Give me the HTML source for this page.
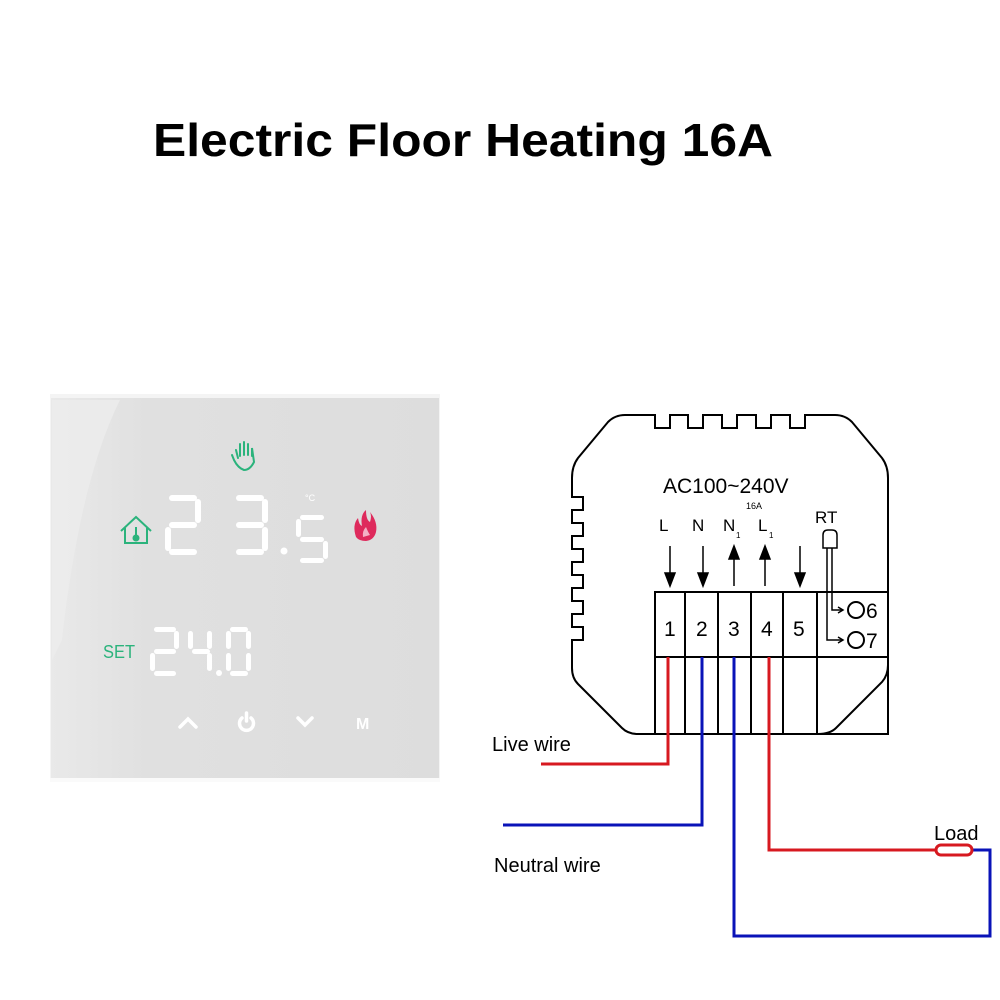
<!DOCTYPE html>
<html><head><meta charset="utf-8"><style>
html,body{margin:0;padding:0;background:#fff;}
svg{display:block;font-family:"Liberation Sans",Arial,sans-serif;}
</style></head><body>
<svg width="1000" height="1000" viewBox="0 0 1000 1000" xmlns="http://www.w3.org/2000/svg">
<rect width="1000" height="1000" fill="#fff"/>
<text x="153" y="156" font-size="46" font-weight="bold" textLength="620" lengthAdjust="spacingAndGlyphs">Electric Floor Heating 16A</text>

<defs>
<linearGradient id="pg" x1="0" y1="0" x2="1" y2="0">
<stop offset="0" stop-color="#e9e9e9"/><stop offset="0.25" stop-color="#e0e0e0"/><stop offset="1" stop-color="#dddddd"/>
</linearGradient>
</defs>
<rect x="50" y="394" width="390" height="388" fill="#f4f4f4"/>
<rect x="51" y="398" width="388" height="380" fill="url(#pg)"/>
<path d="M52 400 L120 400 Q80 480 62 640 L52 660 Z" fill="#ececec" opacity="0.8"/>
<rect x="50" y="778" width="390" height="4" fill="#fafafa"/>

<g stroke="#2bb37c" stroke-width="2" fill="none" stroke-linecap="round">
<path d="M238 458 L236 450 M240 456 L240 444 M244 455 L244 442 M248 455 L248 444 M252 456 L252 448 L254 462 Q250 470 244 470 Q238 468 234 460 L232 455"/>
</g>
<g stroke="#2bb37c" stroke-width="2" fill="none">
<path d="M121 531 L136 517 L151 531 M125 528 L125 543 L147 543 L147 528"/>
<circle cx="136" cy="538" r="2.5" fill="#2bb37c"/>
<line x1="136" y1="527" x2="136" y2="537"/>
</g>
<path d="M356 537 Q352 525 358 518 Q359 525 362 526 Q360 515 366 510 Q366 520 370 522 Q372 516 370 512 Q378 522 376 532 Q374 540 366 541 Q359 541 356 537 Z" fill="#de2a5c"/>
<path d="M363 537 Q362 531 366 527 Q368 532 370 535" fill="#f3b0c4"/>

<g fill="#ffffff">
<rect x="169" y="495" width="28" height="6" rx="3"/><rect x="195" y="499" width="6" height="24" rx="3"/><rect x="169" y="522" width="28" height="6" rx="3"/><rect x="165" y="527" width="6" height="24" rx="3"/><rect x="169" y="549" width="28" height="6" rx="3"/>
<rect x="236" y="495" width="28" height="6" rx="3"/><rect x="262" y="499" width="6" height="24" rx="3"/><rect x="236" y="522" width="28" height="6" rx="3"/><rect x="262" y="527" width="6" height="24" rx="3"/><rect x="236" y="549" width="28" height="6" rx="3"/>
<circle cx="284" cy="551" r="3.5"/>
<rect x="300" y="515" width="24" height="5" rx="2.5"/><rect x="296" y="519" width="5" height="18" rx="2.5"/><rect x="300" y="537" width="24" height="5" rx="2.5"/><rect x="323" y="541" width="5" height="18" rx="2.5"/><rect x="300" y="558" width="24" height="5" rx="2.5"/>
<rect x="154" y="627" width="22" height="5" rx="2.5"/><rect x="174" y="631" width="5" height="18" rx="2.5"/><rect x="154" y="649" width="22" height="5" rx="2.5"/><rect x="150" y="653" width="5" height="18" rx="2.5"/><rect x="154" y="671" width="22" height="5" rx="2.5"/>
<rect x="188" y="631" width="5" height="18" rx="2.5"/><rect x="192" y="649" width="18" height="5" rx="2.5"/><rect x="207" y="631" width="5" height="18" rx="2.5"/><rect x="207" y="653" width="5" height="18" rx="2.5"/>
<circle cx="219" cy="673" r="3"/>
<rect x="230" y="627" width="18" height="5" rx="2.5"/><rect x="226" y="631" width="5" height="18" rx="2.5"/><rect x="246" y="631" width="5" height="18" rx="2.5"/><rect x="226" y="653" width="5" height="18" rx="2.5"/><rect x="246" y="653" width="5" height="18" rx="2.5"/><rect x="230" y="671" width="18" height="5" rx="2.5"/>
</g>
<text x="305" y="501" font-size="9" fill="#fff">°C</text>
<text x="103" y="658" font-size="18" fill="#2bb37c" textLength="32" lengthAdjust="spacingAndGlyphs">SET</text>

<g stroke="#fff" stroke-width="3.5" fill="none" stroke-linecap="round">
<path d="M180 727 L188 719 L196 727"/>
<path d="M298 718 L305 725 L312 718"/>
<path d="M242 718 A7 7 0 1 0 251 718"/>
<line x1="246.5" y1="713" x2="246.5" y2="721"/>
</g>
<text x="356" y="729" font-size="16" font-weight="bold" fill="#fff">M</text>

<g fill="none" stroke="#000" stroke-width="2">
<path d="M625 415 L655 415 L655 428 L670 428 L670 415 L688 415 L688 428 L703 428 L703 415 L722 415 L722 428 L737 428 L737 415 L756 415 L756 428 L771 428 L771 415 L790 415 L790 428 L805 428 L805 415 L835 415 Q845 415 852 422 L882 458 Q888 466 888 478 L888 665 Q888 675 882 682 L836 728 Q830 734 818 734 L638 734 Q628 734 622 728 L578 684 Q572 678 572 668 L572 640 L583 640 L583 627 L572 627 L572 614 L583 614 L583 601 L572 601 L572 588 L583 588 L583 575 L572 575 L572 562 L583 562 L583 549 L572 549 L572 536 L583 536 L583 523 L572 523 L572 510 L583 510 L583 497 L572 497 L572 478 Q572 466 578 458 L608 422 Q615 415 625 415"/>
<rect x="655" y="592" width="233" height="142"/>
<line x1="655" y1="657" x2="888" y2="657"/>
<line x1="685" y1="592" x2="685" y2="734"/>
<line x1="718" y1="592" x2="718" y2="734"/>
<line x1="751" y1="592" x2="751" y2="734"/>
<line x1="783" y1="592" x2="783" y2="734"/>
<line x1="817" y1="592" x2="817" y2="734"/>
</g>

<text x="663" y="493" font-size="21">AC100~240V</text>
<text x="746" y="509" font-size="9">16A</text>
<g font-size="17">
<text x="659" y="531">L</text>
<text x="692" y="531">N</text>
<text x="723" y="531">N</text><text x="736" y="538" font-size="8">1</text>
<text x="758" y="531">L</text><text x="769" y="538" font-size="8">1</text>
<text x="815" y="523">RT</text>
</g>
<g stroke="#000" stroke-width="1.5" fill="#000">
<line x1="670" y1="546" x2="670" y2="576"/><path d="M665 573 L670 586 L675 573 Z"/>
<line x1="703" y1="546" x2="703" y2="576"/><path d="M698 573 L703 586 L708 573 Z"/>
<line x1="734" y1="556" x2="734" y2="586"/><path d="M729 559 L734 546 L739 559 Z"/>
<line x1="765" y1="556" x2="765" y2="586"/><path d="M760 559 L765 546 L770 559 Z"/>
<line x1="800" y1="546" x2="800" y2="576"/><path d="M795 573 L800 586 L805 573 Z"/>
</g>
<g fill="none" stroke="#000" stroke-width="1.5">
<path d="M823 548 L823 535 Q823 530 828 530 L832 530 Q837 530 837 535 L837 548 Z"/>
<path d="M827 548 L827 640 L842 640 M832 548 L832 610 L842 610"/>
<path d="M838 607 L843 610 L838 613 M838 637 L843 640 L838 643"/>
<circle cx="856" cy="610" r="8" stroke-width="2"/>
<circle cx="856" cy="640" r="8" stroke-width="2"/>
</g>
<g font-size="21">
<text x="664" y="636">1</text><text x="696" y="636">2</text><text x="728" y="636">3</text><text x="761" y="636">4</text><text x="793" y="636">5</text>
<text x="866" y="618">6</text><text x="866" y="648">7</text>
</g>

<g fill="none" stroke-width="3">
<path d="M541 764 L668 764 L668 657" stroke="#d71920"/>
<path d="M503 825 L702 825 L702 657" stroke="#0a13b8"/>
<path d="M734 657 L734 936 L990 936 L990 850 L972 850" stroke="#0a13b8"/>
<path d="M769 657 L769 850 L936 850" stroke="#d71920"/>
<rect x="936" y="845" width="36" height="10" rx="5" stroke="#d71920"/>
</g>
<text x="492" y="751" font-size="20">Live wire</text>
<text x="494" y="872" font-size="20">Neutral wire</text>
<text x="934" y="840" font-size="20">Load</text>
</svg>
</body></html>
